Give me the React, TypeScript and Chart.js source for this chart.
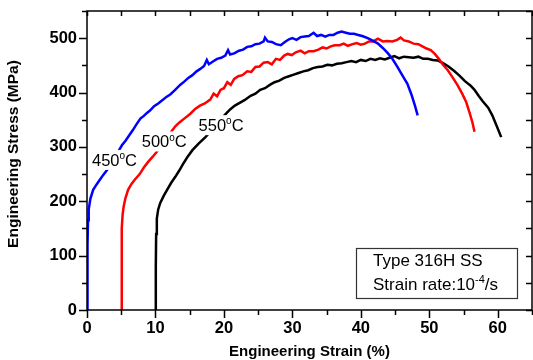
import React, { useEffect, useRef } from "react";
import { Chart, registerables } from "chart.js";

Chart.register(...registerables);

// 450 °C curve (blue)
const strain450 = [0, 0.05, 0.1, 0.15, 0.25, 0.5, 0.9, 1.4, 1.9, 2.4, 2.9, 3.5, 4.0, 4.5, 5.1, 5.6, 6.2, 6.7, 7.2, 7.8, 8.3, 8.8, 9.2, 9.8, 10.4, 11.0, 11.6, 12.2, 12.8, 13.6, 14.2, 14.8, 15.4, 16.0, 16.5, 17.1, 17.5, 17.8, 18.4, 19.0, 19.6, 20.2, 20.6, 20.9, 21.5, 22.2, 22.8, 23.4, 24.0, 24.6, 25.2, 25.8, 26.0, 26.4, 27.0, 27.6, 28.3, 28.9, 29.5, 30.0, 30.6, 31.2, 31.8, 32.4, 33.1, 33.6, 34.2, 34.8, 35.4, 36.0, 36.6, 37.2, 37.8, 38.4, 39.0, 39.6, 40.2, 41.0, 41.8, 42.5, 43.2, 43.9, 44.6, 45.3, 46.0, 46.8, 47.4, 47.9, 48.3];
const stress450 = [0, 60, 120, 165, 185, 205, 221, 231, 240, 249, 257, 268, 279, 290, 303, 311, 322, 331, 341, 352, 357, 363, 367, 375, 380, 386, 392, 397, 404, 414, 420, 427, 432, 439, 443, 449, 460, 452, 457, 462, 464, 468, 478, 470, 472, 477, 479, 484, 485, 489, 490, 494, 501, 494, 493, 489, 487, 493, 498, 500, 497, 502, 503, 504, 510, 504, 506, 503, 506, 506, 510, 512, 510, 508, 508, 506, 504, 500, 495, 490, 482, 473, 462, 448, 433, 416, 396, 376, 358];

// 500 °C curve (red)
const strain500 = [5.0, 5.05, 5.1, 5.2, 5.35, 5.6, 6.0, 6.5, 7.0, 7.7, 8.3, 8.9, 9.6, 10.2, 10.9, 11.6, 12.3, 12.9, 13.5, 14.2, 15.1, 15.8, 16.5, 17.2, 18.0, 18.5, 19.0, 19.5, 20.0, 20.5, 21.0, 21.5, 22.1, 22.7, 23.4, 24.0, 24.6, 25.2, 25.8, 26.4, 27.0, 27.6, 28.2, 28.8, 29.3, 29.9, 30.5, 31.2, 31.8, 32.4, 33.1, 33.8, 34.4, 35.0, 35.6, 36.2, 36.9, 37.5, 38.1, 38.8, 39.4, 40.0, 40.6, 41.2, 41.8, 42.5, 43.2, 43.9, 44.6, 45.3, 45.8, 46.3, 47.0, 47.7, 48.4, 49.0, 49.6, 50.2, 50.8, 51.4, 52.0, 52.7, 53.4, 54.1, 54.8, 55.4, 55.9, 56.3, 56.6];
const stress500 = [0, 80, 150, 175, 190, 205, 221, 232, 240, 250, 262, 272, 282, 291, 303, 316, 328, 338, 345, 352, 361, 370, 376, 380, 387, 398, 393, 405, 408, 419, 414, 425, 430, 432, 439, 438, 447, 448, 455, 456, 452, 462, 460, 468, 471, 469, 474, 477, 472, 476, 476, 479, 483, 481, 485, 487, 487, 490, 486, 489, 491, 488, 490, 494, 494, 499, 494, 495, 494, 497, 501, 496, 494, 490, 489, 485, 481, 478, 471, 462, 451, 441, 428, 414, 398, 382, 362, 345, 328];

// 550 °C curve (black)
const strain550 = [10.0, 10.05, 10.1, 10.2, 10.4, 10.7, 11.2, 11.7, 12.3, 12.9, 13.5, 14.1, 14.7, 15.4, 16.3, 17.3, 18.3, 19.2, 20.0, 20.9, 21.6, 22.3, 23.0, 23.9, 24.6, 25.3, 26.0, 26.7, 27.4, 28.1, 28.8, 29.5, 30.2, 30.9, 31.6, 32.3, 33.0, 33.7, 34.4, 35.1, 35.8, 36.5, 37.2, 37.9, 38.6, 39.3, 40.0, 40.7, 41.4, 42.1, 42.8, 43.5, 44.2, 44.9, 45.6, 46.3, 47.0, 47.7, 48.4, 49.1, 49.8, 50.5, 51.2, 52.0, 52.8, 53.6, 54.4, 55.2, 56.0, 56.6, 57.2, 57.8, 58.6, 59.2, 59.8, 60.5];
const stress550 = [0, 80, 140, 168, 185, 197, 210, 221, 234, 245, 257, 270, 282, 294, 306, 318, 332, 346, 357, 369, 376, 381, 386, 394, 398, 405, 408, 414, 419, 422, 427, 430, 433, 436, 439, 441, 445, 447, 448, 451, 450, 453, 454, 456, 458, 456, 460, 458, 462, 460, 463, 461, 464, 467, 463, 466, 465, 464, 466, 462, 462, 460, 459, 454, 448, 440, 431, 421, 413, 405, 394, 384, 372, 358, 340, 318];

const xTicks = [0, 10, 20, 30, 40, 50, 60];
const yTicks = [0, 100, 200, 300, 400, 500];

const FONT = 'Arial, "Liberation Sans", sans-serif';

function toPoints(xs: number[], ys: number[]) {
  return xs.map((v, i) => ({ x: v, y: ys[i] }));
}

type Part = { t: string; sup?: boolean };

function drawRich(ctx: CanvasRenderingContext2D, x: number, y: number, parts: Part[], size: number) {
  let cx = x;
  ctx.textAlign = "left";
  ctx.textBaseline = "alphabetic";
  for (const p of parts) {
    if (p.sup) {
      ctx.font = `${Math.round(size * 0.62)}px ${FONT}`;
      ctx.fillText(p.t, cx, y - size * 0.42);
    } else {
      ctx.font = `${size}px ${FONT}`;
      ctx.fillText(p.t, cx, y);
    }
    cx += ctx.measureText(p.t).width;
  }
  return cx - x;
}

function measureRich(ctx: CanvasRenderingContext2D, parts: Part[], size: number) {
  let w = 0;
  for (const p of parts) {
    ctx.font = p.sup ? `${Math.round(size * 0.62)}px ${FONT}` : `${size}px ${FONT}`;
    w += ctx.measureText(p.t).width;
  }
  return w;
}

const tempLabels: { x: number; y: number; parts: Part[] }[] = [
  { x: 0.73, y: 265, parts: [{ t: "450" }, { t: "o", sup: true }, { t: "C" }] },
  { x: 8.0, y: 299, parts: [{ t: "500" }, { t: "o", sup: true }, { t: "C" }] },
  { x: 16.3, y: 329, parts: [{ t: "550" }, { t: "o", sup: true }, { t: "C" }] },
];

const deco = {
  id: "deco",
  afterDatasetsDraw(chart: any) {
    const { ctx, scales } = chart;
    const xs = scales.x;
    const ys = scales.y;
    ctx.save();
    const size = 16.5;
    for (const l of tempLabels) {
      const px = xs.getPixelForValue(l.x);
      const py = ys.getPixelForValue(l.y);
      const w = measureRich(ctx, l.parts, size);
      ctx.fillStyle = "#fff";
      ctx.fillRect(px - 1, py - 16, w + 2, 20);
      ctx.fillStyle = "#000";
      drawRich(ctx, px, py, l.parts, size);
    }
    ctx.restore();
  },
  afterDraw(chart: any) {
    const { ctx, chartArea: a, scales } = chart;
    const xs = scales.x;
    const ys = scales.y;
    ctx.save();
    ctx.strokeStyle = "#000";
    ctx.lineWidth = 1.5;
    ctx.strokeRect(a.left, a.top, a.right - a.left, a.bottom - a.top);
    ctx.beginPath();
    for (let v = 0; v <= 65; v += 5) {
      const px = Math.round(xs.getPixelForValue(v)) + 0.5;
      const major = v % 10 === 0;
      ctx.moveTo(px, a.bottom);
      ctx.lineTo(px, a.bottom + (major ? 8 : 5));
      ctx.moveTo(px, a.top);
      ctx.lineTo(px, a.top + 5);
    }
    for (let v = 0; v <= 550; v += 50) {
      const py = Math.round(ys.getPixelForValue(v)) + 0.5;
      const major = v % 100 === 0;
      ctx.moveTo(a.left, py);
      ctx.lineTo(a.left - (major ? 8 : 5), py);
      ctx.moveTo(a.right, py);
      ctx.lineTo(a.right - 6, py);
    }
    ctx.stroke();

    // axis titles
    ctx.fillStyle = "#000";
    ctx.font = `bold 15px ${FONT}`;
    ctx.textAlign = "center";
    ctx.textBaseline = "middle";
    ctx.fillText("Engineering Strain (%)", (a.left + a.right) / 2, 352);
    ctx.save();
    ctx.translate(14, 154);
    ctx.rotate(-Math.PI / 2);
    ctx.font = `bold 15.5px ${FONT}`;
    ctx.fillText("Engineering Stress (MPa)", 0, 0);
    ctx.restore();

    // info box
    const bx = 356, by = 248, bw = 161, bh = 50;
    ctx.fillStyle = "#fff";
    ctx.fillRect(bx, by, bw, bh);
    ctx.strokeStyle = "#333";
    ctx.lineWidth = 1.2;
    ctx.strokeRect(bx + 0.5, by + 0.5, bw, bh);
    ctx.fillStyle = "#000";
    drawRich(ctx, 373, 266, [{ t: "Type 316H SS" }], 17);
    drawRich(ctx, 373, 290, [{ t: "Strain rate:10" }, { t: "-4", sup: true }, { t: "/s" }], 17);
    ctx.restore();
  },
};

export default function App() {
  const ref = useRef<HTMLCanvasElement | null>(null);
  useEffect(() => {
    document.body.style.margin = "0";
    const canvas = ref.current!;
    const chart = new Chart(canvas, {
      type: "scatter",
      data: {
        datasets: [
          { label: "450°C", data: toPoints(strain450, stress450), borderColor: "#0000ff", backgroundColor: "#0000ff" },
          { label: "500°C", data: toPoints(strain500, stress500), borderColor: "#ff0000", backgroundColor: "#ff0000" },
          { label: "550°C", data: toPoints(strain550, stress550), borderColor: "#000000", backgroundColor: "#000000" },
        ].map((d) => ({ ...d, showLine: true, pointRadius: 0, borderWidth: 2.5, tension: 0, fill: false })),
      },
      options: {
        animation: false,
        responsive: false,
        maintainAspectRatio: false,
        devicePixelRatio: 1,
        layout: { padding: { top: 11, right: 1, left: 0, bottom: 0 } },
        plugins: { legend: { display: false }, tooltip: { enabled: false } },
        scales: {
          x: {
            type: "linear",
            min: 0,
            max: 65,
            grid: { display: false, drawTicks: false },
            border: { display: false },
            afterFit: (s: any) => { s.height = 50; s.paddingLeft = 0; s.paddingRight = 0; },
            afterBuildTicks: (s: any) => { s.ticks = xTicks.map((v) => ({ value: v })); },
            ticks: { color: "#000", padding: 9, maxRotation: 0, font: { family: FONT, size: 16.5, weight: "bold" } },
          },
          y: {
            type: "linear",
            min: 0,
            max: 550,
            grid: { display: false, drawTicks: false },
            border: { display: false },
            afterFit: (s: any) => { s.width = 87; s.paddingTop = 0; s.paddingBottom = 0; },
            afterBuildTicks: (s: any) => { s.ticks = yTicks.map((v) => ({ value: v })); },
            ticks: { color: "#000", padding: 10, font: { family: FONT, size: 16.5, weight: "bold" } },
          },
        },
      },
      plugins: [deco],
    });
    return () => chart.destroy();
  }, []);
  return <canvas ref={ref} width={533} height={360} style={{ display: "block" }} />;
}
